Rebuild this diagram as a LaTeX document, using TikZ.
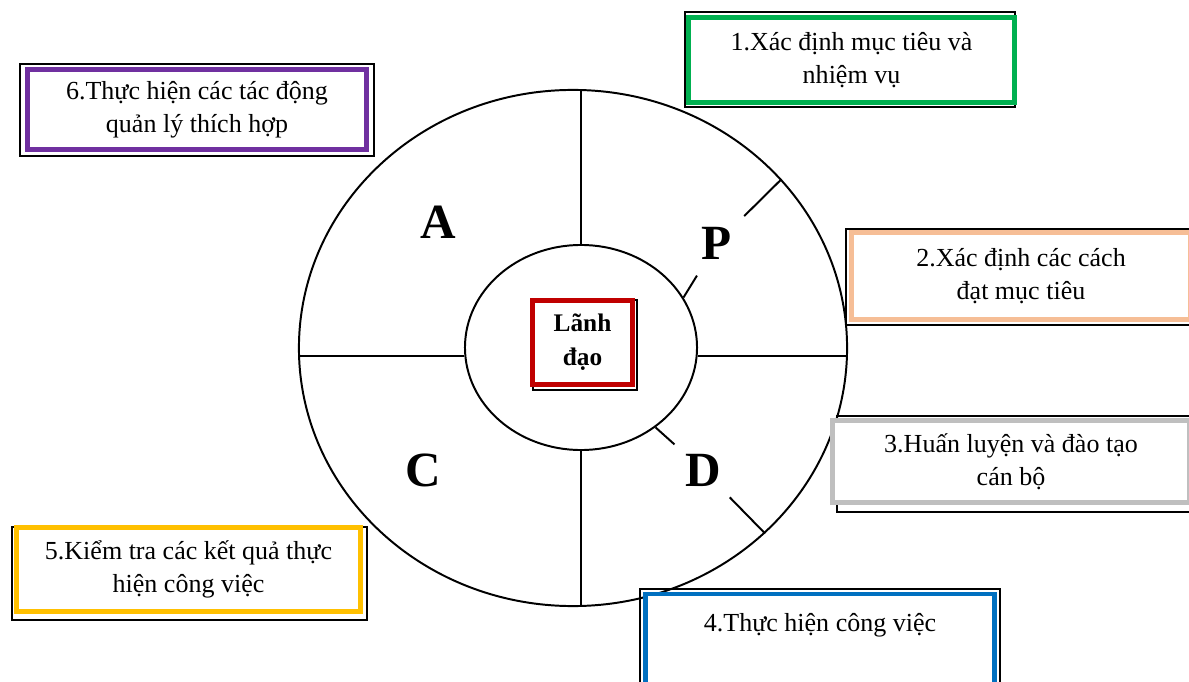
\documentclass[tikz,border=0pt]{standalone}
\usepackage{fontspec}
\setmainfont{Liberation Serif}
\usetikzlibrary{shapes.geometric}

\definecolor{goalgreen}{RGB}{0,176,80}
\definecolor{waypeach}{RGB}{246,190,150}
\definecolor{traingrey}{RGB}{191,191,191}
\definecolor{workblue}{RGB}{0,112,192}
\definecolor{checkyellow}{RGB}{255,192,0}
\definecolor{actpurple}{RGB}{112,48,160}
\definecolor{leadred}{RGB}{192,0,0}

\begin{document}
\begin{tikzpicture}[x=0.025cm, y=-0.025cm]
\tikzset{
    ring/.style={ellipse, draw, line width=1.4pt, inner sep=0pt},
    phase/.style={circle, minimum size=1.9cm, inner sep=0pt, font=\bfseries\fontsize{35}{40}\selectfont},
    task/.style={rectangle, draw, line width=3.5pt, fill=white, inner sep=0pt, align=center, font=\fontsize{18.5}{23.5}\selectfont},
    frame/.style={draw, line width=1pt}
}
\useasboundingbox (0,0) rectangle (1189,682);

% --- PDCA wheel ---
\node (outer) at (573,348) [ring, minimum width=13.7cm, minimum height=12.9cm] {};
\node (inner) at (581,347.5) [ring, minimum width=5.8cm, minimum height=5.125cm] {};

\draw[line width=1.4pt] (inner.north) -- (inner.north |- outer.north);
\draw[line width=1.4pt] (inner.south) -- (inner.south |- outer.south);
\draw[line width=1.4pt] (inner.184.7) -- (inner.184.7 -| outer.west);
\draw[line width=1.4pt] (inner.-4.7) -- (inner.-4.7 -| outer.east);

\node (A) at (438,222) [phase] {A};
\node (P) at (717,243) [phase] {P};
\node (C) at (423,470) [phase] {C};
\node (D) at (703,470) [phase] {D};

% broken diagonals through P and D
\draw[line width=1.4pt] (inner.26) -- (P) -- (outer.39);
\draw[line width=1.4pt] (inner.-47) -- (D) -- (outer.-44);

% --- Centre ---
\draw[frame] (533,300) rectangle (637,390);
\node (lead) at (582.5,342.5) [task, draw=leadred, minimum width=2.5cm, minimum height=2.1cm,
    font=\bfseries\fontsize{18}{24}\selectfont] {Lãnh\\đạo};

% --- Steps around the wheel ---
\draw[frame] (685,12) rectangle (1015,107);
\node (goal) at (851.5,60) [task, draw=goalgreen, minimum width=8.15cm, minimum height=2.125cm]
    {1.Xác định mục tiêu và\\nhiệm vụ};

\draw[frame] (846,229) rectangle (1195,325);
\node (ways) at (1021,276) [task, draw=waypeach, minimum width=8.46cm, minimum height=2.175cm]
    {2.Xác định các cách\\đạt mục tiêu};

\draw[frame] (837,416) rectangle (1195,512);
\node (train) at (1011,461.5) [task, draw=traingrey, minimum width=8.94cm, minimum height=2.05cm]
    {3.Huấn luyện và đào tạo\\cán bộ};

\draw[frame] (640,589) rectangle (1000,690);
\node (work) at (820,639) [task, draw=workblue, minimum width=8.725cm, minimum height=2.25cm]
    {4.Thực hiện công việc\\~};

\draw[frame] (12,527) rectangle (367,620);
\node (check) at (188.5,569.5) [task, draw=checkyellow, minimum width=8.6cm, minimum height=2.1cm]
    {5.Kiểm tra các kết quả thực\\hiện công việc};

\draw[frame] (20,64) rectangle (374,156);
\node (act) at (197,109.5) [task, draw=actpurple, minimum width=8.475cm, minimum height=2cm]
    {6.Thực hiện các tác động\\quản lý thích hợp};

\end{tikzpicture}
\end{document}
